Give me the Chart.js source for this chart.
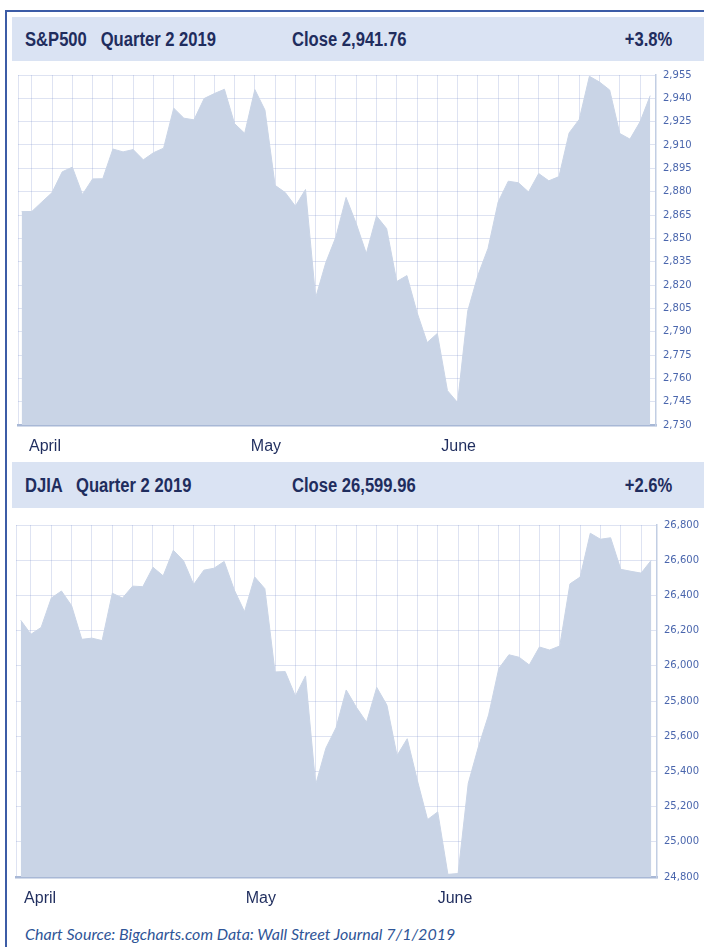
<!DOCTYPE html>
<html>
<head>
<meta charset="utf-8">
<script src="https://cdn.jsdelivr.net/npm/chart.js@4.4.1/dist/chart.umd.min.js"></script>
<style>
  body { margin:0; background:#fff; width:704px; height:947px; overflow:hidden; position:relative; }
  .frame { position:absolute; left:5px; top:10px; width:720px; height:960px; border-left:2px solid #3c5ca6; border-top:2px solid #3c5ca6; }
  .band { position:absolute; left:12px; width:692px; background:#dae3f3; color:#1f2d5e;
          font-family:"Liberation Sans Narrow","Arial Narrow","Liberation Sans",sans-serif; font-weight:bold; font-size:20px; }
  .band span { position:absolute; top:50%; transform:translateY(-50%) scaleX(0.83); transform-origin:left center; white-space:pre; }
  .band span.r { transform-origin:right center; }
  canvas { position:absolute; left:0; }
  .foot { position:absolute; left:25px; top:924px; color:#2f5597; font-family:Lato,"Open Sans",sans-serif;
          font-style:italic; font-size:16px; white-space:pre; }
</style>
</head>
<body>
<div class="frame"></div>

<div class="band" style="top:17px;height:44px;">
  <span style="left:13px;">S&amp;P500   Quarter 2 2019</span>
  <span style="left:280px;">Close 2,941.76</span>
  <span class="r" style="right:32px;">+3.8%</span>
</div>
<canvas id="sp" width="704" height="400" style="top:62px;"></canvas>

<div class="band" style="top:462px;height:46px;">
  <span style="left:13px;">DJIA   Quarter 2 2019</span>
  <span style="left:280px;">Close 26,599.96</span>
  <span class="r" style="right:32px;">+2.6%</span>
</div>
<canvas id="dj" width="704" height="400" style="top:512px;"></canvas>

<div class="foot">Chart Source: Bigcharts.com Data: Wall Street Journal 7/1/2019</div>

<script>
// trading days of Q2 2019
const days = ['4/1','4/2','4/3','4/4','4/5','4/8','4/9','4/10','4/11','4/12','4/15','4/16','4/17','4/18','4/22','4/23','4/24','4/25','4/26','4/29','4/30',
  '5/1','5/2','5/3','5/6','5/7','5/8','5/9','5/10','5/13','5/14','5/15','5/16','5/17','5/20','5/21','5/22','5/23','5/24','5/28','5/29','5/30','5/31',
  '6/3','6/4','6/5','6/6','6/7','6/10','6/11','6/12','6/13','6/14','6/17','6/18','6/19','6/20','6/21','6/24','6/25','6/26','6/27','6/28'];

const spClose = [2867.19,2867.24,2873.40,2879.39,2892.74,2895.77,2878.20,2888.21,2888.32,2907.41,2905.58,2907.06,2900.45,2905.03,2907.97,2933.68,2927.25,2926.17,2939.88,2943.03,2945.83,
  2923.73,2917.52,2945.64,2932.47,2884.05,2879.42,2870.72,2881.40,2811.87,2834.41,2850.96,2876.32,2859.53,2840.23,2864.36,2856.27,2822.24,2826.06,2802.39,2783.02,2788.86,2752.06,
  2744.45,2803.27,2826.15,2843.49,2873.34,2886.73,2885.72,2879.84,2891.64,2886.98,2889.67,2917.75,2926.46,2954.18,2950.46,2945.35,2917.38,2913.78,2924.92,2941.76];

const djClose = [26258.42,26179.13,26218.13,26384.63,26424.99,26341.02,26150.58,26157.16,26143.05,26412.30,26384.77,26452.66,26449.54,26559.54,26511.05,26656.39,26597.05,26462.08,26543.33,26554.39,26592.91,
  26430.14,26307.79,26504.95,26438.48,25965.09,25967.33,25828.36,25942.37,25324.99,25532.05,25648.02,25862.68,25764.00,25679.90,25877.33,25776.61,25490.47,25585.69,25347.77,25126.41,25169.88,24815.04,
  24819.78,25332.18,25539.57,25720.66,25983.94,26062.68,26048.51,26004.83,26106.77,26089.61,26112.53,26465.54,26504.00,26753.17,26719.13,26727.54,26548.22,26536.82,26526.58,26599.96];

const spTicks = [2730,2745,2760,2775,2790,2805,2820,2835,2850,2865,2880,2895,2910,2925,2940,2955];
const djTicks = [24800,25000,25200,25400,25600,25800,26000,26200,26400,26600,26800];

const monthLabels = ['April','May','June'];
const spMonthAt = [2.3, 24.1, 43.1];
const djMonthAt = [1.9, 23.6, 42.7];

const fillColor = '#c9d4e6';
const gridColor = 'rgba(115,140,200,0.24)';
const navy = '#1f2d5e';

function makeChart(id, values, yTicks, monthAt, o) {
  const pts = values.map((v, i) => ({x: i, y: v}));
  // vertical grid every second trading day, plus the left edge
  const gridAt = [o.xMin];
  for (let i = 1; i < days.length; i += 2) gridAt.push(i);

  return new Chart(document.getElementById(id), {
    type: 'line',
    data: {
      datasets: [{
        data: pts,
        fill: 'start',
        backgroundColor: fillColor,
        borderColor: fillColor,
        borderWidth: 1,
        pointRadius: 0,
        tension: 0
      }]
    },
    options: {
      responsive: false,
      animation: false,
      layout: { padding: { left: o.padLeft, top: o.padTop, right: 0, bottom: 0 } },
      plugins: { legend: { display: false }, tooltip: { enabled: false } },
      scales: {
        x: {
          type: 'linear',
          min: o.xMin,
          max: o.xMax,
          z: 1,
          afterBuildTicks: s => { s.ticks = gridAt.concat(monthAt).map(v => ({value: v})); },
          afterFit: s => { s.height = o.xH; },
          grid: {
            color: c => (c.tick && monthAt.includes(c.tick.value)) ? 'rgba(0,0,0,0)' : gridColor,
            drawTicks: false
          },
          border: { color: '#a8b8d6', width: 2.5 },
          ticks: {
            autoSkip: false,
            maxRotation: 0,
            padding: 12,
            color: navy,
            font: { family: '"Liberation Sans Narrow","Arial Narrow","Liberation Sans",sans-serif', size: 16 },
            callback: v => { const k = monthAt.indexOf(v); return k >= 0 ? monthLabels[k] : ''; }
          }
        },
        y: {
          position: 'right',
          min: yTicks[0],
          max: yTicks[yTicks.length - 1],
          z: 1,
          afterBuildTicks: s => { s.ticks = yTicks.map(v => ({value: v})); },
          afterFit: s => { s.width = o.yW; },
          grid: { color: gridColor, drawTicks: false },
          border: { color: '#c2cee3', width: 1.5 },
          ticks: {
            padding: 7,
            color: '#4a66ad',
            font: { family: 'DejaVu Sans', size: 10 },
            callback: v => v.toLocaleString('en-US')
          }
        }
      }
    }
  });
}

makeChart('sp', spClose, spTicks, spMonthAt, { xMin: -0.36, xMax: 62.57, padLeft: 18, padTop: 8, xH: 37, yW: 48 });
makeChart('dj', djClose, djTicks, djMonthAt, { xMin: -0.47, xMax: 62.56, padLeft: 16, padTop: 9, xH: 35, yW: 47 });
</script>
</body>
</html>
